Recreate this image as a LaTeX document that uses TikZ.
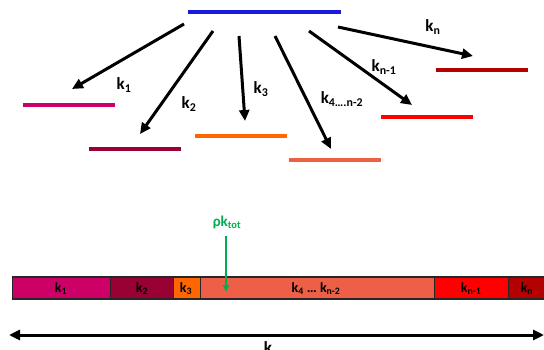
\documentclass[tikz,border=0pt]{standalone}
\usepackage{fontspec}
\setmainfont{Carlito}
\usetikzlibrary{arrows.meta}
\definecolor{cblue}{HTML}{1A1ADC}
\definecolor{cmag}{HTML}{CC0066}
\definecolor{cmaroon}{HTML}{990033}
\definecolor{corange}{HTML}{FF6600}
\definecolor{ccoral}{HTML}{EE5F47}
\definecolor{cred}{HTML}{FF0000}
\definecolor{cdred}{HTML}{B30000}
\definecolor{cgreen}{HTML}{00B050}
\newcommand\sbs[1]{\textsubscript{#1}}
\tikzset{
  level/.style={line width=4pt},
  trans/.style={line width=3pt, -{Triangle[length=11pt,width=10pt]}},
  toplab/.style={font=\fontsize{17}{17}\selectfont\bfseries, inner sep=0pt},
  barlab/.style={font=\fontsize{14}{14}\selectfont\bfseries, inner sep=0pt},
  seg/.style={draw=black!85, line width=1.2pt, minimum height=22pt, anchor=west, inner sep=0pt}
}
\begin{document}
\begin{tikzpicture}[x=1pt,y=-1pt]
\useasboundingbox (0,0) rectangle (544,349);
% energy levels
\draw[level,cblue] (188,12) -- (341,12);
\draw[level,cmag] (23,105) -- (115,105);
\draw[level,cmaroon] (89,149) -- (181,149);
\draw[level,corange] (195,136) -- (287,136);
\draw[level,ccoral] (289,160) -- (381,160);
\draw[level,cred] (381,117) -- (473,117);
\draw[level,cdred] (436,70) -- (528,70);
% transitions
\coordinate (a1s) at (184,24); \coordinate (a1e) at (72,89);
\coordinate (a2s) at (213,31); \coordinate (a2e) at (140,134);
\coordinate (a3s) at (239,36); \coordinate (a3e) at (245,121);
\coordinate (a4s) at (275,36); \coordinate (a4e) at (331,149);
\coordinate (a5s) at (309,31); \coordinate (a5e) at (412,105);
\coordinate (a6s) at (338,27); \coordinate (a6e) at (473,56);
\draw[trans] (a1s) -- (a1e);
\draw[trans] (a2s) -- (a2e);
\draw[trans] (a3s) -- (a3e);
\draw[trans] (a4s) -- (a4e);
\draw[trans] (a5s) -- (a5e);
\draw[trans] (a6s) -- (a6e);
\node[toplab] (l1) at (124,85) {k\sbs{1}};
\node[toplab] (l2) at (189,104) {k\sbs{2}};
\node[toplab] (l3) at (261,89) {k\sbs{3}};
\node[toplab] (l4) at (342,99) {k\sbs{4….n-2}};
\node[toplab] (l5) at (384,67) {k\sbs{n-1}};
\node[toplab] (l6) at (433,27) {k\sbs{n}};
% bar
\node[seg, fill=cmag, minimum width=98pt] (b1) at (12,288) {};
\node[seg, fill=cmaroon, minimum width=63pt] (b2) at (110,288) {};
\node[seg, fill=corange, minimum width=27pt] (b3) at (173,288) {};
\node[seg, fill=ccoral, minimum width=234pt] (b4) at (200,288) {};
\node[seg, fill=cred, minimum width=74pt] (b5) at (434,288) {};
\node[seg, fill=cdred, minimum width=40pt] (b6) at (508,288) {};
\node[barlab] (t1) at (61,289) {k\sbs{1}};
\node[barlab] (t2) at (142,289) {k\sbs{2}};
\node[barlab] (t3) at (186,289) {k\sbs{3}};
\node[barlab] (t4) at (316,289) {k\sbs{4} … k\sbs{n-2}};
\node[barlab] (t5) at (471,289) {k\sbs{n-1}};
\node[barlab] (t6) at (527,289) {k\sbs{n}};
% rho k_tot
\node[inner sep=0pt, text=cgreen, font=\fontsize{15}{15}\selectfont\bfseries] (rho) at (227,222) {ρk\sbs{tot}};
\coordinate (rhos) at (226,236);
\coordinate (rhoe) at (226,292);
\draw[cgreen, line width=2pt, -{Triangle[length=7pt,width=6pt]}] (rhos) -- (rhoe);
% bottom double arrow
\coordinate (dl) at (9,335); \coordinate (dr) at (544,335);
\draw[line width=3pt, {Triangle[length=11pt,width=10pt]}-{Triangle[length=11pt,width=10pt]}] (dl) -- (dr);
\node[toplab, anchor=north] (kb) at (268,341) {k};
\end{tikzpicture}
\end{document}
